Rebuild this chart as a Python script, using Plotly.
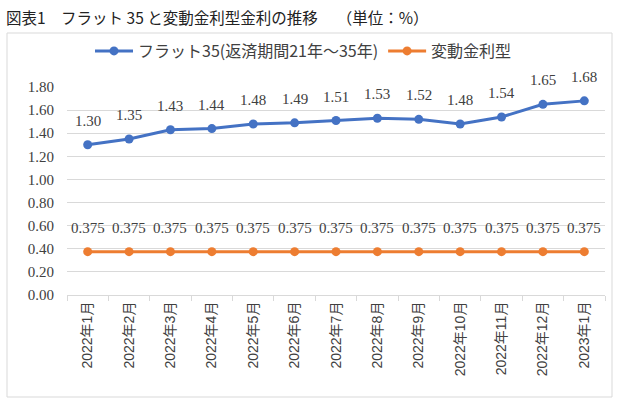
import plotly.graph_objects as go

months = ["2022年1月", "2022年2月", "2022年3月", "2022年4月", "2022年5月", "2022年6月",
          "2022年7月", "2022年8月", "2022年9月", "2022年10月", "2022年11月", "2022年12月", "2023年1月"]
flat35 = [1.30, 1.35, 1.43, 1.44, 1.48, 1.49, 1.51, 1.53, 1.52, 1.48, 1.54, 1.65, 1.68]
variable = [0.375] * 13
yticks = [0.0, 0.2, 0.4, 0.6, 0.8, 1.0, 1.2, 1.4, 1.6, 1.8]

serif = '"Liberation Serif", "DejaVu Serif", serif'
W, H = 630, 402
L, R, T, B = 67, 25, 87, 107
pw, ph = W - L - R, H - T - B

fig = go.Figure()
fig.add_trace(go.Scatter(
    x=months, y=flat35, name="フラット35(返済期間21年～35年)", mode="lines+markers",
    line=dict(color="#4472C4", width=3), marker=dict(size=9, color="#4472C4")))
fig.add_trace(go.Scatter(
    x=months, y=variable, name="変動金利型", mode="lines+markers",
    line=dict(color="#ED7D31", width=3), marker=dict(size=9, color="#ED7D31")))

for xs, ys, fmt in [(months, flat35, "{:.2f}"), (months, variable, "{:.3f}")]:
    for xv, yv in zip(xs, ys):
        fig.add_annotation(x=xv, y=yv, text=fmt.format(yv), showarrow=False,
                           yshift=24, font=dict(family=serif, size=15, color="#404040"))

fig.update_layout(
    width=W, height=H, paper_bgcolor="white", plot_bgcolor="white",
    margin=dict(l=L, r=R, t=T, b=B, autoexpand=False),
    showlegend=True,
    legend=dict(orientation="h", x=(90 - L) / pw, xanchor="left", y=1 - 51 / H, yanchor="middle",
                yref="container", itemwidth=38,
                font=dict(family="Noto Sans CJK JP", size=16, color="#404040")),
    font=dict(family="Noto Sans CJK JP", color="#404040"),
)
fig.update_xaxes(type="category", range=[-0.5, len(months) - 0.5], tickangle=-90,
                 ticks="outside", tickson="boundaries",
                 ticklen=5, tickcolor="#d9d9d9", showline=True, linecolor="#d9d9d9",
                 showgrid=False, automargin=False,
                 tickfont=dict(family="Liberation Sans, Noto Sans CJK JP", size=14, color="#404040"))
fig.update_yaxes(range=[0, 1.8], tickvals=yticks, ticktext=[f"{v:.2f}" for v in yticks],
                 showgrid=True, gridcolor="#d9d9d9", gridwidth=1, zeroline=False, automargin=False,
                 tickfont=dict(family=serif, size=15, color="#404040"), ticklabelstandoff=12)

fig.add_shape(type="rect", xref="paper", yref="paper",
              x0=(7 - L) / pw, x1=(612 - L) / pw, y0=-(397 - (H - B)) / ph, y1=((H - B) - 33) / ph,
              line=dict(color="#d9d9d9", width=1))
fig.add_annotation(text="図表1　フラット 35 と変動金利型金利の推移　 （単位：%）",
                   xref="paper", yref="paper", x=(4 - L) / pw, xanchor="left",
                   y=((H - B) - 17) / ph, yanchor="middle", showarrow=False,
                   font=dict(family="Noto Sans CJK JP", size=15.5, color="#222222"))
fig.write_html("out.html", config={"displayModeBar": False},
               post_script="document.body.style.margin='0';")
